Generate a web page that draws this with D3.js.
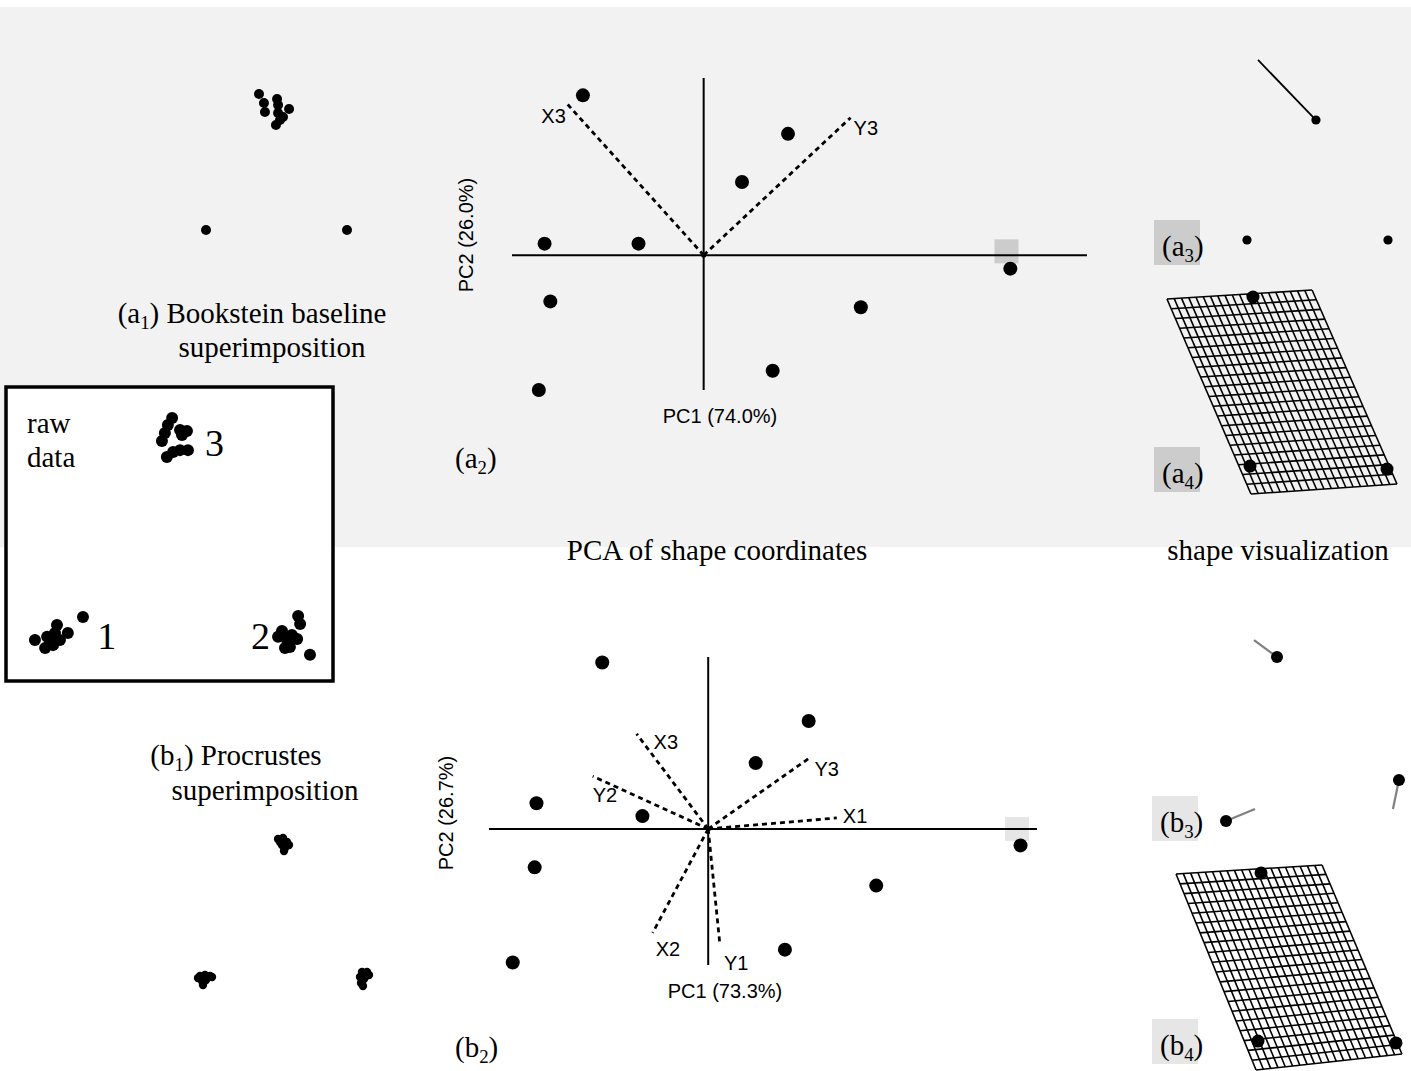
<!DOCTYPE html>
<html><head><meta charset="utf-8">
<script src="https://cdn.jsdelivr.net/npm/d3@7"></script>
<style>body{margin:0;background:#fff}svg{display:block}</style>
</head><body>
<svg id="c" width="1411" height="1071"></svg>
<script>
// ---------------- DATA ----------------
// raw data (arbitrary units 0..10)
const rawLM1 = [[2.37,2.20],[1.58,1.93],[1.52,1.66],[1.91,1.66],[0.91,1.42],[1.28,1.53],[1.22,1.15],[1.46,1.25],[1.37,1.36],[1.67,1.42]];
const rawLM2 = [[8.91,2.24],[8.97,1.97],[8.42,1.73],[8.30,1.53],[8.72,1.59],[8.88,1.46],[8.51,1.15],[8.66,1.19],[9.27,0.92],[8.57,1.42]];
const rawLM3 = [[5.08,8.95],[4.95,8.71],[4.86,8.44],[4.77,8.17],[5.32,8.54],[5.53,8.51],[5.38,8.37],[5.32,7.86],[5.56,7.86],[4.92,7.63],[5.11,7.80]];
const rawLabels = ["1","2","3"];

// (a1) Bookstein coordinates
const bookBaseline = [[0,0],[1,0]];
const bookLM3 = [[0.376,0.965],[0.411,0.901],[0.418,0.837],[0.504,0.929],[0.511,0.887],[0.589,0.858],[0.511,0.830],[0.546,0.801],[0.525,0.780],[0.496,0.745]];

// (b1) Procrustes coordinates
const procLM1 = [[-0.415,-0.210],[-0.390,-0.205],[-0.365,-0.210],[-0.405,-0.235],[-0.385,-0.230],[-0.400,-0.255],[-0.425,-0.220],[-0.355,-0.215]];
const procLM2 = [[0.395,-0.190],[0.420,-0.190],[0.430,-0.205],[0.385,-0.215],[0.405,-0.225],[0.390,-0.245],[0.400,-0.260],[0.415,-0.210]];
const procLM3 = [[0.000,0.480],[0.020,0.460],[-0.015,0.460],[0.010,0.430],[-0.005,0.445],[0.030,0.445],[0.005,0.415],[-0.025,0.475]];

// (a2) PCA of Bookstein shape coordinates
const a2PC1 = [-0.063,0.044,0.020,-0.083,-0.034,-0.080,0.036,-0.086,0.082,0.160];
const a2PC2 = [0.083,0.063,0.038,0.006,0.006,-0.024,-0.060,-0.070,-0.027,-0.007];
const a2LoadNames = ["X3","Y3"];
const a2LoadPC1 = [-0.68,0.73];
const a2LoadPC2 = [0.75,0.68];
const a2AxisTitles = ["PC1 (74.0%)","PC2 (26.0%)"];
const a2Highlight = [0.158,0.002];

// (b2) PCA of Procrustes shape coordinates
const b2PC1 = [-0.058,-0.094,-0.036,-0.095,-0.107,0.026,0.055,0.171,0.092,0.042];
const b2PC2 = [0.091,0.014,0.007,-0.021,-0.073,0.036,0.059,-0.009,-0.031,-0.066];
const b2LoadNames = ["X3","Y2","X2","Y1","Y3","X1"];
const b2LoadPC1 = [-0.49,-0.79,-0.38,0.08,0.70,0.88];
const b2LoadPC2 = [0.65,0.36,-0.71,-0.79,0.49,0.075];
const b2AxisTitles = ["PC1 (73.3%)","PC2 (26.7%)"];
const b2Highlight = [0.169,0];

// shape visualizations
const a3Landmarks = [[0,0],[1,0],[0.489,0.851]];
const a3Shift = [[0,0],[0,0],[-0.411,0.426]];
const b3Landmarks = [[0,0],[1.153,0.273],[0.34,1.093]];
const b3Shift = [[0.193,0.08],[-0.04,-0.193],[-0.153,0.113]];
const a4Landmarks = [[0,0.007],[1.0,-0.015],[0.022,1.241]];
const a4GridCorners = [[-0.606,1.226],[0.453,1.292],[1.073,-0.124],[0.007,-0.197]]; // TL,TR,BR,BL
const b4Landmarks = [[0,0.007],[1.0,-0.007],[0.022,1.225]];
const b4GridCorners = [[-0.594,1.217],[0.464,1.283],[1.043,-0.087],[-0.014,-0.203]];
const gridDivisions = 20;

// ---------------- LAYOUT / STYLE ----------------
const SERIF = "'Liberation Serif','Times New Roman',serif";
const SANS = "'Liberation Sans',Arial,Helvetica,sans-serif";
const svg = d3.select("#c");

svg.append("rect").attr("x",0).attr("y",7).attr("width",1411).attr("height",540).attr("fill","#f2f2f2");

function dots(g, data, sx, sy, r, fill){
  g.append("g").selectAll("circle").data(data).join("circle")
    .attr("cx",d=>sx(d[0])).attr("cy",d=>sy(d[1])).attr("r",r).attr("fill",fill||"#000");
}
function subText(x, y, pre, sub, post, size, anchor){
  const t = svg.append("text").attr("x",x).attr("y",y).attr("font-family",SERIF)
    .attr("font-size",size).attr("text-anchor",anchor||"start").attr("fill","#000");
  t.append("tspan").text(pre);
  t.append("tspan").attr("font-size",size*0.65).attr("dy",size*0.2).text(sub);
  t.append("tspan").attr("dy",-size*0.2).text(post);
  return t;
}
function plainText(x, y, str, size, fam, anchor){
  return svg.append("text").attr("x",x).attr("y",y).attr("font-family",fam)
    .attr("font-size",size).attr("text-anchor",anchor||"start").attr("fill","#000").text(str);
}

// ---------- raw data box ----------
svg.append("rect").attr("x",6).attr("y",387).attr("width",327).attr("height",294)
  .attr("fill","#fff").attr("stroke","#000").attr("stroke-width",3.5);
const rx = d3.scaleLinear().domain([0,10]).range([5,334]);
const ry = d3.scaleLinear().domain([0,10]).range([682,387]);
const gRaw = svg.append("g");
[rawLM1,rawLM2,rawLM3].forEach(a=>dots(gRaw,a,rx,ry,6));
plainText(27,433,"raw",29,SERIF);
plainText(27,467,"data",29,SERIF);
const rawLabelOffset = [[42,13,"start"],[-22,12,"end"],[30,18,"start"]];
[rawLM1,rawLM2,rawLM3].forEach((a,i)=>{
  const mx = d3.mean(a,d=>d[0]), my = d3.mean(a,d=>d[1]);
  plainText(rx(mx)+rawLabelOffset[i][0], ry(my)+rawLabelOffset[i][1], rawLabels[i], 38, SERIF, rawLabelOffset[i][2]);
});

// ---------- (a1) Bookstein ----------
const bx = d3.scaleLinear().domain([0,1]).range([206,347]);
const by = d3.scaleLinear().domain([0,1]).range([230,89]);
const gA1 = svg.append("g");
dots(gA1,bookBaseline,bx,by,5);
dots(gA1,bookLM3,bx,by,5);
subText(252,323,"(a","1",") Bookstein baseline",29,"middle");
plainText(272,357,"superimposition",29,SERIF,"middle");

// ---------- (b1) Procrustes ----------
const px = d3.scaleLinear().domain([-1,1]).range([83,483]);
const py = d3.scaleLinear().domain([-1,1]).range([1134,734]);
const gB1 = svg.append("g");
[procLM1,procLM2,procLM3].forEach(a=>dots(gB1,a,px,py,4.2));
subText(236,765,"(b","1",") Procrustes",29,"middle");
plainText(265,800,"superimposition",29,SERIF,"middle");

// ---------- PCA plots ----------
function pcaPlot(opt){
  const g = svg.append("g");
  const sx = opt.sx, sy = opt.sy;
  g.append("rect").attr("x",sx(opt.hl[0])-12).attr("y",sy(opt.hl[1])-12)
    .attr("width",24).attr("height",24).attr("fill",opt.hlFill);
  g.append("line").attr("x1",sx.range()[0]).attr("x2",sx.range()[1]).attr("y1",sy(0)).attr("y2",sy(0))
    .attr("stroke","#000").attr("stroke-width",2);
  g.append("line").attr("x1",sx(0)).attr("x2",sx(0)).attr("y1",sy.range()[0]).attr("y2",sy.range()[1])
    .attr("stroke","#000").attr("stroke-width",2);
  opt.names.forEach((n,i)=>{
    const ex = sx(opt.l1[i]*opt.f), ey = sy(opt.l2[i]*opt.f);
    g.append("line").attr("x1",sx(0)).attr("y1",sy(0)).attr("x2",ex).attr("y2",ey)
      .attr("stroke","#000").attr("stroke-width",2.8).attr("stroke-dasharray","5,4");
    const nd = opt.nudge[n];
    plainText(ex+nd[0], ey+nd[1], n, 20, SANS, nd[2]);
  });
  g.append("circle").attr("cx",sx(0)).attr("cy",sy(0)).attr("r",2.5).attr("fill","#000");
  const pts = opt.pc1.map((v,i)=>[v,opt.pc2[i]]);
  dots(g,pts,sx,sy,7);
  plainText(opt.t1[0],opt.t1[1],opt.titles[0],20,SANS,"middle");
  plainText(0,0,opt.titles[1],20,SANS,"middle").attr("transform",`translate(${opt.t2[0]},${opt.t2[1]}) rotate(-90)`);
}
pcaPlot({
  sx: d3.scaleLinear().domain([-0.10,0.20]).range([512,1087]),
  sy: d3.scaleLinear().domain([-0.07,0.092]).range([390,78]),
  pc1:a2PC1, pc2:a2PC2, names:a2LoadNames, l1:a2LoadPC1, l2:a2LoadPC2, f:0.105,
  hl:a2Highlight, hlFill:"#cccccc", titles:a2AxisTitles,
  t1:[720,423], t2:[473,235],
  nudge:{"X3":[-1,19,"end"],"Y3":[3,17,"start"]}
});
pcaPlot({
  sx: d3.scaleLinear().domain([-0.12,0.18]).range([489,1037]),
  sy: d3.scaleLinear().domain([-0.0744,0.094]).range([965,657]),
  pc1:b2PC1, pc2:b2PC2, names:b2LoadNames, l1:b2LoadPC1, l2:b2LoadPC2, f:0.08,
  hl:b2Highlight, hlFill:"#e6e6e6", titles:b2AxisTitles,
  t1:[725,998], t2:[453,813],
  nudge:{"X3":[17,15,"start"],"Y2":[0,26,"start"],"X2":[3,23,"start"],"Y1":[4,25,"start"],"Y3":[4,19,"start"],"X1":[6,5,"start"]}
});
subText(455,468,"(a","2",")",29,"start");
subText(455,1057,"(b","2",")",29,"start");
plainText(717,560,"PCA of shape coordinates",29,SERIF,"middle");
plainText(1278,560,"shape visualization",29,SERIF,"middle");

// ---------- shape vectors (a3, b3) ----------
function vectorPanel(lm, shift, sx, sy, r, col, w){
  const g = svg.append("g");
  lm.forEach((p,i)=>{
    const s = shift[i];
    if (s[0]!==0 || s[1]!==0){
      g.append("line").attr("x1",sx(p[0])).attr("y1",sy(p[1]))
        .attr("x2",sx(p[0]+s[0])).attr("y2",sy(p[1]+s[1]))
        .attr("stroke",col).attr("stroke-width",w);
    }
  });
  dots(g,lm,sx,sy,r);
}
vectorPanel(a3Landmarks,a3Shift,d3.scaleLinear().domain([0,1]).range([1247,1388]),d3.scaleLinear().domain([0,1]).range([240,99]),4.6,"#000",1.8);
vectorPanel(b3Landmarks,b3Shift,d3.scaleLinear().domain([0,1]).range([1226,1376]),d3.scaleLinear().domain([0,1]).range([821,671]),6,"#808080",2.2);

// ---------- deformation grids (a4, b4) ----------
function gridPanel(corners, lm, sx, sy){
  const g = svg.append("g");
  const [TL,TR,BR,BL] = corners;
  const P = (u,v)=>{
    const x = (1-u)*(1-v)*TL[0] + u*(1-v)*TR[0] + u*v*BR[0] + (1-u)*v*BL[0];
    const y = (1-u)*(1-v)*TL[1] + u*(1-v)*TR[1] + u*v*BR[1] + (1-u)*v*BL[1];
    return [sx(x), sy(y)];
  };
  const line = d3.line();
  const n = gridDivisions;
  const lines = [];
  for (let i=0;i<=n;i++){
    lines.push([P(i/n,0),P(i/n,1)]);
    lines.push([P(0,i/n),P(1,i/n)]);
  }
  g.selectAll("path").data(lines).join("path").attr("d",line)
    .attr("fill","none").attr("stroke","#000").attr("stroke-width",1.6);
  dots(g,lm,sx,sy,6.5);
}
gridPanel(a4GridCorners,a4Landmarks,d3.scaleLinear().domain([0,1]).range([1250,1387]),d3.scaleLinear().domain([0,1]).range([467,330]));
gridPanel(b4GridCorners,b4Landmarks,d3.scaleLinear().domain([0,1]).range([1258,1396]),d3.scaleLinear().domain([0,1]).range([1042,904]));

// ---------- panel tags ----------
const tags = [["a","3",1154,220,"#cccccc"],["a","4",1154,447,"#cccccc"],["b","3",1152,796,"#e6e6e6"],["b","4",1152,1019,"#e6e6e6"]];
tags.forEach(t=>{
  svg.append("rect").attr("x",t[2]).attr("y",t[3]).attr("width",46).attr("height",45).attr("fill",t[4]);
  subText(t[2]+8,t[3]+36,"("+t[0],t[1],")",29,"start");
});
</script>
</body></html>
